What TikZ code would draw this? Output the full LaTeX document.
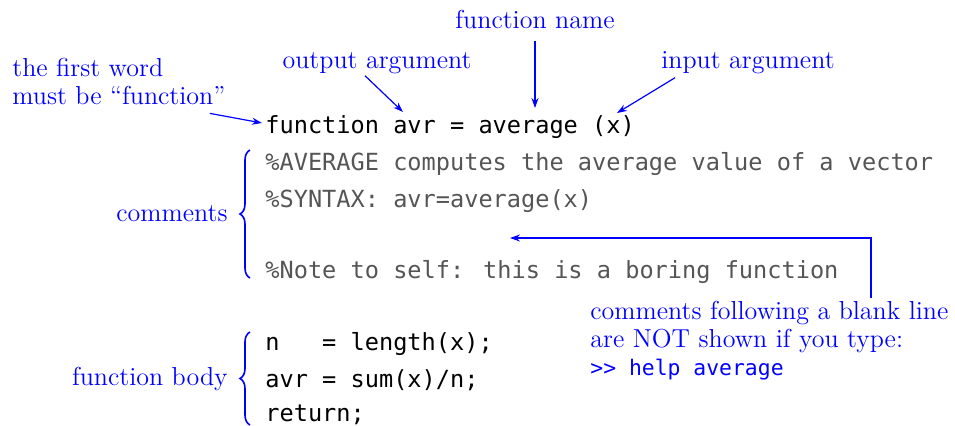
\documentclass[tikz,border=0pt]{standalone}
\usepackage{fontspec}
\usepackage{tikz}
\usetikzlibrary{arrows.meta, decorations.pathreplacing, positioning}
\newfontfamily\codefont{DejaVu Sans Mono}
\definecolor{notecolor}{RGB}{0,0,255}
\definecolor{commentcolor}{RGB}{85,85,85}

\begin{document}
\begin{tikzpicture}
        [x=0.5pt, y=-0.5pt,
         notesty/.style={text=notecolor,
                         inner sep=0pt,
                         align=left,
                         font=\fontsize{13}{14}\selectfont},
         codesty/.style={inner sep=0pt,
                         anchor=base west,
                         font=\codefont\fontsize{11.8}{14}\selectfont},
         commentsty/.style={codesty,
                            text=commentcolor},
         post/.style={-{Stealth[length=5pt, width=3.5pt]}, draw=notecolor, semithick},
         bracesty/.style={decorate,
                          decoration={brace, amplitude=5pt},
                          draw=notecolor,
                          thick}]

        \useasboundingbox (0,0) rectangle (955,425);

        % the code
        \node[codesty] (head line) at (265,133) {function avr = average (x)};
        \node[commentsty] (comment1) at (265,170) {\%AVERAGE computes the average value of a vector};
        \node[commentsty] (comment2) at (265,207) {\%SYNTAX: avr=average(x)};
        \node[commentsty] (comment3) at (265,278) {\%Note to self: this is a boring function};
        \node[codesty] (body1) at (265,350) {n\ \ \ = length(x);};
        \node[codesty] (body2) at (265,387) {avr = sum(x)/n;};
        \node[codesty] (body3) at (265,421) {return;};

        % labels
        \node[notesty, anchor=base] (func name) at (535,28) {function name};
        \node[notesty, anchor=base] (out arg) at (377,68) {output argument};
        \node[notesty, anchor=base] (in arg) at (748,68) {input argument};
        \node[notesty, anchor=north west] (first word) at (12,58) {the first word\\must be ``function''};
        \node[notesty, anchor=base east] (comments) at (228,221) {comments};
        \node[notesty, anchor=base east] (func body) at (228,385) {function body};
        \node[notesty, anchor=north west] (blank note) at (590,301)
                {comments following a blank line\\are NOT shown if you type:\\
                 {\codefont\fontsize{10.7}{14}\selectfont >{}> help average}};

        \coordinate (first tip) at (262,123);
        \coordinate (out tip) at (403,112);
        \coordinate (name tip) at (535,108);
        \coordinate (in tip) at (617,113);
        \coordinate (blank tip) at (510,238);

        \draw[post] ([shift={(-16,8)}]first word.south east) -- (first tip);
        \draw[post] ([shift={(-12,2)}]out arg.south) -- (out tip);
        \draw[post] ([yshift=-6pt]func name.south) -- (name tip);
        \draw[post] ([shift={(-73,4)}]in arg.south) -- (in tip);
        \draw[post] ([shift={(281,-3)}]blank note.north west) |- (blank tip);

        \draw[bracesty] (250,278) -- (250,150);
        \draw[bracesty] (250,425) -- (250,332);
\end{tikzpicture}
\end{document}
